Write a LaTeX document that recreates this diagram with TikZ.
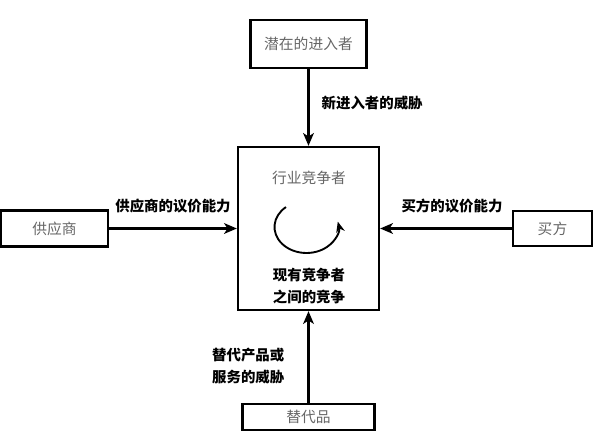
\documentclass[tikz,border=0pt]{standalone}
\usepackage{fontspec}
\usetikzlibrary{arrows.meta}
\newfontfamily\cjk{Noto Sans CJK SC}
\newcommand\boxfont{\cjk\fontsize{12.6}{15}\selectfont}
\newcommand\lblfont{\cjk\bfseries\fontsize{12.3}{18.7}\selectfont}
\definecolor{boxgray}{HTML}{666666}

\begin{document}
\begin{tikzpicture}[
  box/.style={draw=black, line width=2pt, inner sep=0pt, text=boxgray, font=\boxfont},
  force/.style={line width=2.5pt, -{Stealth[length=3.8mm, width=3.2mm, inset=1mm]}},
  lbl/.style={font=\lblfont, align=left, inner sep=0pt}
]
  \useasboundingbox (0,0) rectangle (17.82,13.29);

  \node[box, minimum width=3.48cm, minimum height=1.44cm] at (9.255cm, 11.97cm)(entrant){潜在的进入者};
  \node[box, minimum width=4.23cm, minimum height=4.89cm] at (9.255cm, 6.435cm)(rivals){};
  \node[box, minimum width=3.21cm, minimum height=1.08cm] at (1.635cm, 6.435cm)(supplier){供应商};
  \node[box, minimum width=2.37cm, minimum height=1.05cm] at (16.575cm, 6.435cm)(buyer){买方};
  \node[box, minimum width=3.96cm, minimum height=0.78cm] at (9.255cm, 0.78cm)(subst){替代品};

  % inside the rivals box
  \node[text=boxgray, font=\boxfont] at (9.27cm, 7.95cm)(rtitle){行业竞争者};
  \coordinate (cyc) at (9.195cm, 6.48cm);
  \draw[line width=1.6pt, -{Stealth[length=3.2mm, width=2.6mm]}]
    (cyc) ++(130:0.96cm and 0.78cm) arc[start angle=130, end angle=372, x radius=0.96cm, y radius=0.78cm];
  \node[lbl, align=center] at (9.27cm, 4.71cm)(rtext){现有竞争者\\之间的竞争};

  \draw[force] (entrant)--(rivals);
  \draw[force] (supplier)--(rivals);
  \draw[force] (buyer)--(rivals);
  \draw[force] (subst)--(rivals);

  \path (entrant)--(rivals) node[lbl, pos=.5, anchor=west, xshift=0.39cm, yshift=0.14cm](newthreat){新进入者的威胁};
  \path (supplier)--(rivals) node[lbl, pos=.5, yshift=0.66cm](supppower){供应商的议价能力};
  \path (buyer)--(rivals) node[lbl, pos=.5, xshift=0.18cm, yshift=0.66cm](buypower){买方的议价能力};
  \path (subst)--(rivals) node[lbl, pos=.5, anchor=east, xshift=-0.72cm, yshift=-0.27cm](substhreat){替代产品或\\服务的威胁};

\end{tikzpicture}
\end{document}
